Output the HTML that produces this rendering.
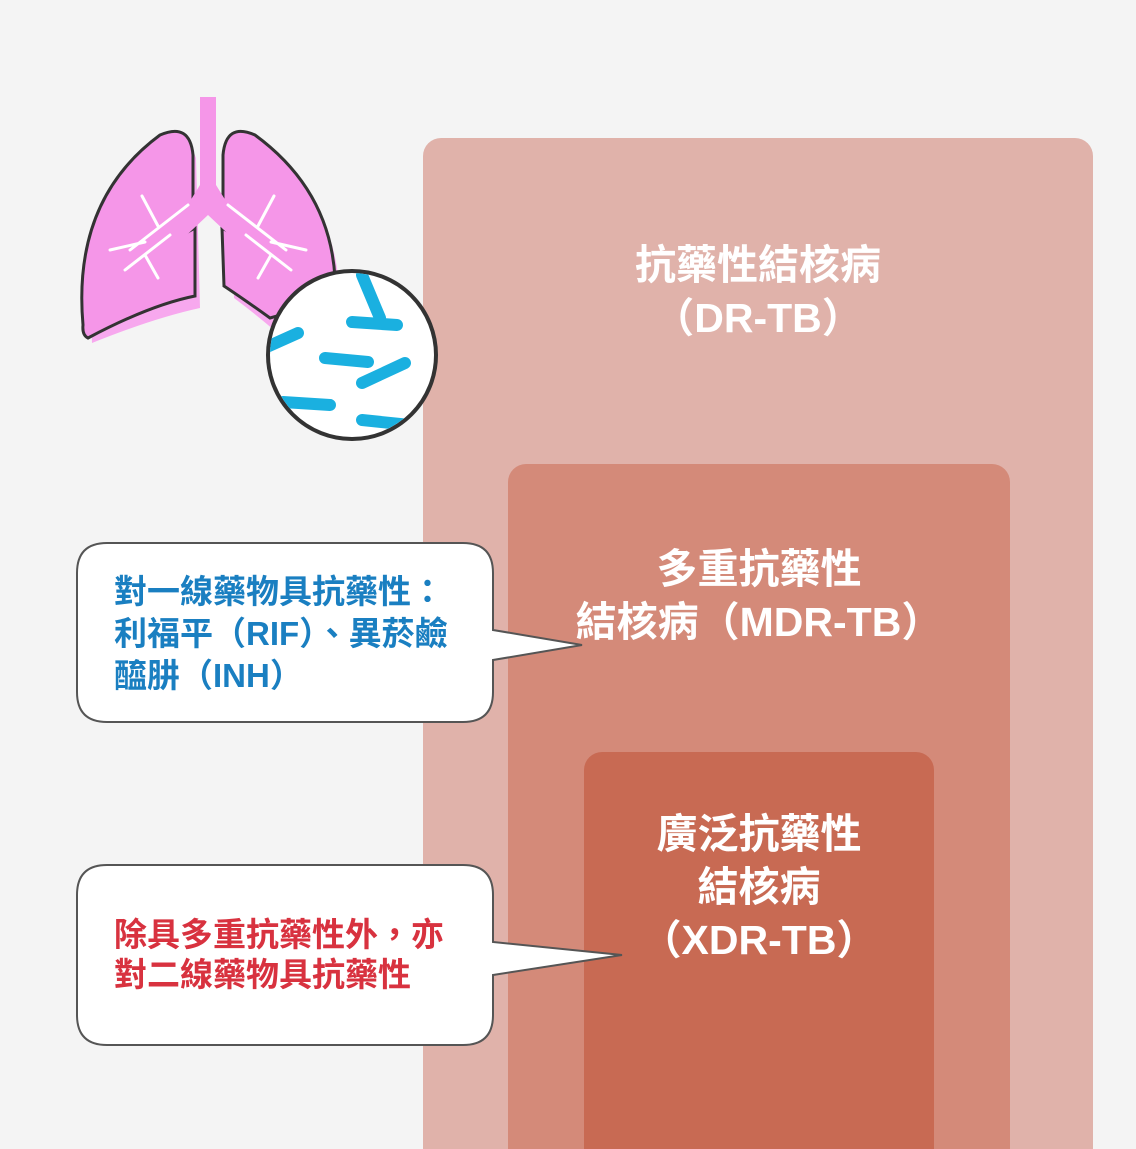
<!DOCTYPE html>
<html><head><meta charset="utf-8"><style>
html,body{margin:0;width:1136px;height:1149px;overflow:hidden}
body{background:#f4f4f4;position:relative;font-family:"Liberation Sans","Noto Sans CJK TC",sans-serif;font-weight:bold}
.r{position:absolute;border-radius:18px 18px 0 0}
.t{position:absolute;color:#fff;text-align:center;font-size:41px;line-height:53px}
.b{position:absolute;font-size:33px;line-height:42px;left:114px;white-space:nowrap}
</style></head><body>
<div class="r" style="left:423px;top:138px;width:670px;height:1011px;background:#e0b2aa"></div>
<div class="r" style="left:508px;top:464px;width:502px;height:685px;background:#d48a79"></div>
<div class="r" style="left:584px;top:752px;width:350px;height:397px;background:#c86a53"></div>
<div class="t" style="left:423px;width:670px;top:239px">抗藥性結核病<br>（DR-TB）</div>
<div class="t" style="left:508px;width:502px;top:543px">多重抗藥性<br>結核病（MDR-TB）</div>
<div class="t" style="left:584px;width:350px;top:808px">廣泛抗藥性<br>結核病<br>（XDR-TB）</div>
<svg style="position:absolute;left:0;top:0" width="1136" height="1149">
<g stroke="#555" stroke-width="2" fill="#fff">
<path d="M107 543 H463 Q493 543 493 573 V630 L582 645 L493 660 V692 Q493 722 463 722 H107 Q77 722 77 692 V573 Q77 543 107 543Z"/>
<path d="M107 865 H463 Q493 865 493 895 V942 L622 955 L493 975 V1015 Q493 1045 463 1045 H107 Q77 1045 77 1015 V895 Q77 865 107 865Z"/>
</g>
<path d="M88 335 Q80 200 160 140 Q185 130 192 150 L196 300 Q150 310 88 335Z" fill="#f7a8ee" transform="translate(4,8)"/>
<path d="M270 322 Q335 300 335 280 Q330 190 255 135 Q230 125 228 150 L230 290 Q250 305 270 322Z" fill="#f7a8ee" transform="translate(4,8)"/>
<path d="M83 325 Q72 200 160 135 Q190 122 193 155 L193 218 L177 238 L195 228 L195 296 Q150 305 88 338 Q82 335 83 325Z" fill="#f596e8" stroke="#333" stroke-width="3"/>
<path d="M270 318 Q335 300 335 278 Q330 190 255 135 Q226 122 223 155 L223 218 L240 238 L222 228 L224 286 Q245 300 270 318Z" fill="#f596e8" stroke="#333" stroke-width="3"/>
<path d="M200 97 H216 V185 L250 240 L240 245 L208 215 L176 245 L166 240 L200 185Z" fill="#f596e8"/>
<g stroke="#fff" stroke-width="3" fill="none" stroke-linecap="round">
<path d="M188 205 L130 250 M158 226 L142 196 M145 242 L110 250 M170 235 L125 270 M145 255 L158 278"/>
<path d="M228 205 L286 250 M258 226 L274 196 M271 242 L306 250 M246 235 L291 270 M271 255 L258 278"/>
</g>
<circle cx="352" cy="355" r="84" fill="#fff" stroke="#333" stroke-width="4"/>
<clipPath id="c"><circle cx="352" cy="355" r="82"/></clipPath>
<g stroke="#1ab0e0" stroke-width="12" stroke-linecap="round" clip-path="url(#c)">
<line x1="362" y1="275" x2="380" y2="318"/><line x1="352" y1="322" x2="397" y2="325"/>
<line x1="260" y1="350" x2="298" y2="333"/><line x1="325" y1="358" x2="368" y2="362"/>
<line x1="362" y1="383" x2="405" y2="363"/><line x1="283" y1="402" x2="330" y2="405"/>
<line x1="362" y1="420" x2="410" y2="425"/>
</g>
</svg>
<div class="b" style="top:571px;color:#1a7fc1">對一線藥物具抗藥性：<br>利福平（RIF）、異菸鹼<br>醯肼（INH）</div>
<div class="b" style="top:915px;color:#d8323f;line-height:40px">除具多重抗藥性外，亦<br>對二線藥物具抗藥性</div>
</body></html>
